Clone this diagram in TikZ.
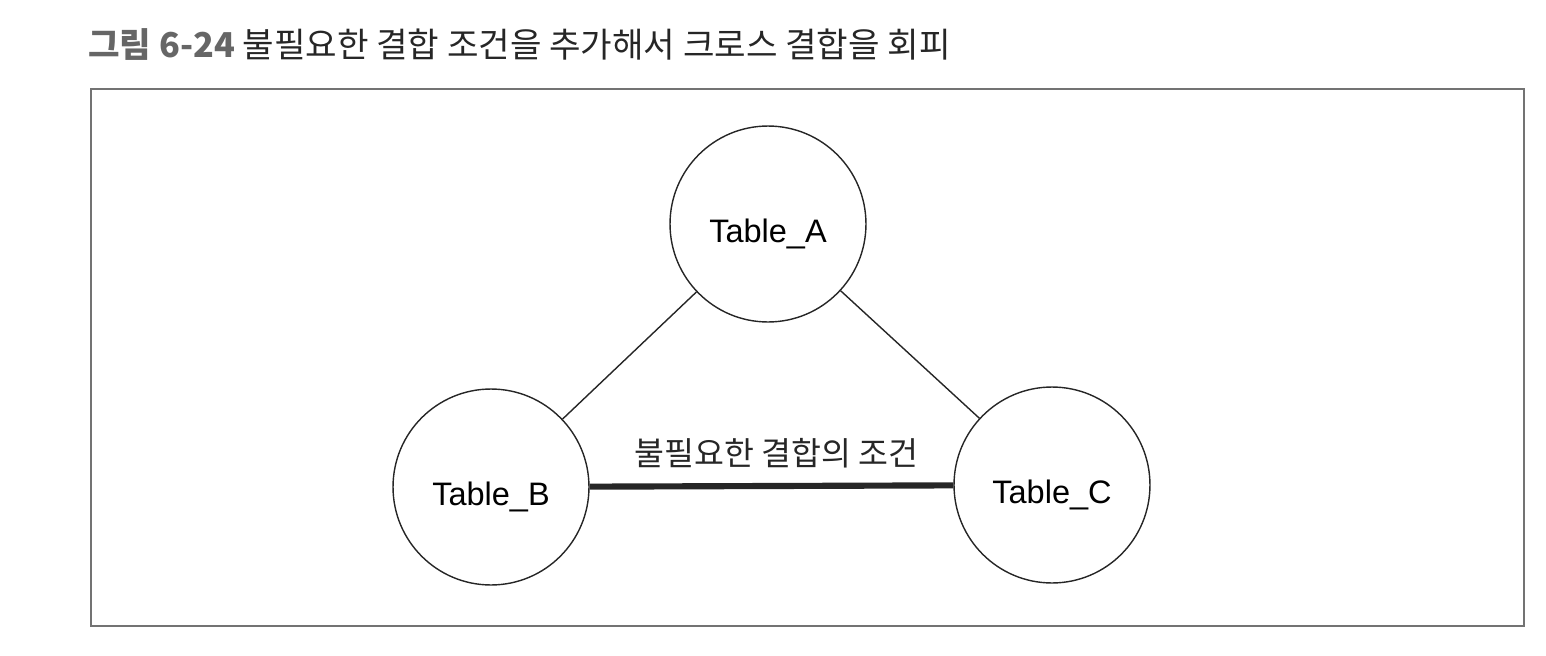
\documentclass[tikz,border=0pt]{standalone}
\usepackage{fontspec}
\setmainfont{Liberation Sans}
\newfontfamily\kor{Noto Sans CJK KR}
\usetikzlibrary{positioning}
\definecolor{rahmen}{gray}{0.45}
\definecolor{titelgrau}{gray}{0.4}
\definecolor{tinte}{gray}{0.15}
\tikzset{
  tabelle/.style={draw=tinte, circle, line width=0.8pt, minimum size=3.92cm, inner sep=0pt,
    text height=0.72cm, text depth=0pt, font=\fontsize{18.5}{20}\selectfont},
  verbindung/.style={draw=tinte, line width=0.8pt},
  unnoetig/.style={draw=tinte, line width=3.5pt},
}

\begin{document}
\begin{tikzpicture}[x=0.02cm, y=-0.02cm]
    \useasboundingbox (0,0) rectangle (1546,656);
    \node[anchor=west, text=tinte, inner sep=0pt, font=\kor\fontsize{19.5}{22}\selectfont] (titel) at (88,45)
      {\textcolor{titelgrau}{\bfseries 그림 6-24} 불필요한 결합 조건을 추가해서 크로스 결합을 회피};
    \draw[rahmen, line width=1.2pt] (91,89) rectangle (1524,626);
    \node[tabelle] (a) at (768,224) {Table\_A};
    \node[tabelle] (b) at (491,487) {Table\_B};
    \node[tabelle] (c) at (1052,485) {Table\_C};
    \draw[verbindung] (a) -- (b);
    \draw[verbindung] (a) -- (c);
    \draw[unnoetig] (b) -- node[above=5pt, xshift=3pt, text=tinte, font=\kor\fontsize{18.5}{20}\selectfont] (bedingung) {불필요한 결합의 조건} (c);
  \end{tikzpicture}
\end{document}
